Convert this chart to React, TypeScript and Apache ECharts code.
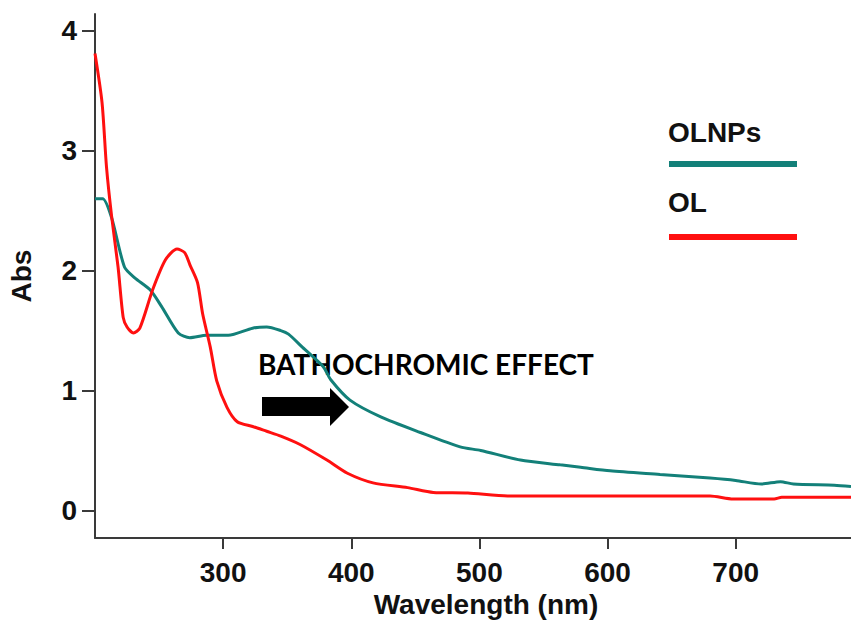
import React, { useEffect, useRef } from "react";
import * as echarts from "echarts";

const olnpsNm = [200, 206, 213, 223, 231, 243, 252, 265, 274, 287, 304, 323, 334, 345, 351, 362, 378, 384, 399, 423, 454, 485, 501, 532, 563, 579, 602, 641, 680, 700, 720, 735, 745, 777, 790];
const olnpsAbs = [2.6, 2.6, 2.44, 2.03, 1.94, 1.84, 1.7, 1.48, 1.44, 1.46, 1.46, 1.52, 1.53, 1.5, 1.47, 1.36, 1.2, 1.09, 0.92, 0.78, 0.65, 0.53, 0.5, 0.42, 0.38, 0.36, 0.33, 0.3, 0.27, 0.25, 0.22, 0.24, 0.22, 0.21, 0.2];

const olNm = [200, 205.5, 209, 213, 218, 222, 225, 230, 235, 245, 255, 264, 270, 274, 280, 284, 290, 295, 303, 311, 323, 334, 345, 360, 381, 397, 417, 444, 464, 491, 522, 580, 680, 698, 730, 736, 790];
const olAbs = [3.81, 3.4, 2.86, 2.45, 2.03, 1.61, 1.53, 1.48, 1.52, 1.84, 2.09, 2.18, 2.15, 2.05, 1.9, 1.64, 1.36, 1.08, 0.86, 0.74, 0.7, 0.66, 0.62, 0.55, 0.42, 0.31, 0.23, 0.19, 0.15, 0.145, 0.12, 0.12, 0.12, 0.095, 0.095, 0.11, 0.11];

const xTicks = [300, 400, 500, 600, 700];
const yTicks = [0, 1, 2, 3, 4];
const seriesNames = ["OLNPs", "OL"];
const annotation = "BATHOCHROMIC EFFECT";

const TEAL = "#138079";
const RED = "#ff1010";
const AXIS = "#3a3a3a";
const FONT = "'Liberation Sans', Arial, sans-serif";

export default function App() {
  const ref = useRef<HTMLDivElement>(null);
  useEffect(() => {
    document.body.style.margin = "0";
    if (!ref.current) return;
    const chart = echarts.init(ref.current, undefined, { renderer: "svg" });
    const olnps = olnpsNm.map((x, i) => [x, olnpsAbs[i]]);
    const ol = olNm.map((x, i) => [x, olAbs[i]]);
    chart.setOption({
      animation: false,
      backgroundColor: "#ffffff",
      grid: { left: 95, top: 14, width: 756, height: 524, containLabel: false, outerBoundsMode: "none" },
      xAxis: {
        type: "value",
        min: 200,
        max: 790,
        name: "Wavelength (nm)",
        nameLocation: "middle",
        nameGap: 50,
        nameTextStyle: { fontSize: 28, fontWeight: "bold", color: "#111", fontFamily: FONT, padding: [0, 0, 0, 26] },
        axisLine: { onZero: false, lineStyle: { color: AXIS, width: 2 } },
        axisTick: { show: true, customValues: xTicks, length: 11, lineStyle: { color: AXIS, width: 2 } },
        axisLabel: { customValues: xTicks, margin: 20, fontSize: 28, fontWeight: "bold", color: "#111", fontFamily: FONT },
        splitLine: { show: false },
      },
      yAxis: {
        type: "value",
        min: -0.23,
        max: 4.14,
        name: "Abs",
        nameLocation: "middle",
        nameGap: 60,
        nameTextStyle: { fontSize: 28, fontWeight: "bold", color: "#111", fontFamily: FONT },
        axisLine: { show: true, lineStyle: { color: AXIS, width: 2 } },
        axisTick: { show: true, customValues: yTicks, length: 13, lineStyle: { color: AXIS, width: 2 } },
        axisLabel: { customValues: yTicks, margin: 18, fontSize: 28, fontWeight: "bold", color: "#111", fontFamily: FONT },
        splitLine: { show: false },
      },
      series: [
        {
          name: seriesNames[0],
          type: "line",
          data: olnps,
          smooth: 0.25,
          showSymbol: false,
          lineStyle: { color: TEAL, width: 3 },
          itemStyle: { color: TEAL },
          z: 2,
        },
        {
          name: seriesNames[1],
          type: "line",
          data: ol,
          smooth: 0.25,
          showSymbol: false,
          lineStyle: { color: RED, width: 3 },
          itemStyle: { color: RED },
          z: 3,
        },
      ],
      graphic: [
        {
          type: "text",
          left: 668,
          top: 118,
          style: { text: seriesNames[0], fontSize: 28, fontWeight: "bold", fill: "#111", fontFamily: FONT },
        },
        {
          type: "rect",
          shape: { x: 669, y: 161, width: 128, height: 6 },
          style: { fill: TEAL },
        },
        {
          type: "text",
          left: 668,
          top: 188,
          style: { text: seriesNames[1], fontSize: 28, fontWeight: "bold", fill: "#111", fontFamily: FONT },
        },
        {
          type: "rect",
          shape: { x: 669, y: 234, width: 128, height: 6 },
          style: { fill: RED },
        },
        {
          type: "text",
          left: 258,
          top: 350,
          style: { text: annotation, fontSize: 28, fontWeight: "bold", fill: "#000", fontFamily: "Lato, 'Open Sans', sans-serif" },
        },
        {
          type: "polygon",
          shape: {
            points: [
              [262, 397], [330, 397], [330, 388], [349, 407], [330, 426], [330, 416], [262, 416],
            ],
          },
          style: { fill: "#000" },
        },
      ],
    });
    return () => chart.dispose();
  }, []);
  return <div ref={ref} style={{ width: 851, height: 622 }} />;
}
